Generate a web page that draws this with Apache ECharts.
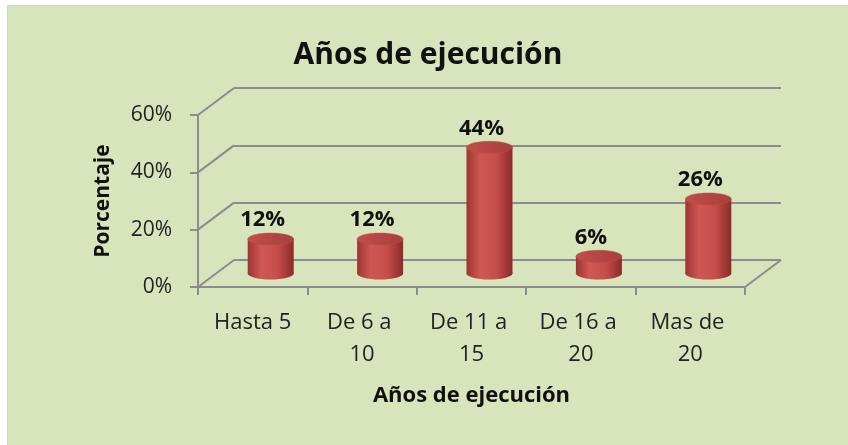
<!DOCTYPE html>
<html>
<head>
<meta charset="utf-8">
<script src="https://cdn.jsdelivr.net/npm/echarts@6/dist/echarts.min.js"></script>
<style>
  html, body { margin: 0; padding: 0; background: #fff; }
  #chart {
    position: absolute; left: 7px; top: 5px;
    width: 840px; height: 439px;
    border-top: 1px solid #d2d2d2; border-left: 1px solid #d2d2d2;
    background: #d8e4bc;
  }
</style>
</head>
<body>
<div id="chart"></div>
<script>
// datos del grafico
const categorias = ['Hasta 5', 'De 6 a 10', 'De 11 a 15', 'De 16 a 20', 'Mas de 20'];
const porcentajes = [12, 12, 44, 6, 26];
const ticksY = [0, 20, 40, 60];

const FONT = '"Open Sans"';
const DX = 36, DY = -27;   // profundidad de la vista 3d
const RX = 23, RY = 6;

let chartDom = document.getElementById('chart');
let myChart = echarts.init(chartDom);

function cilindro(params, api) {
    let i = api.value(0), v = api.value(1);
    let base = api.coord([i, 0]);
    let top = api.coord([i, v]);
    let cx = base[0] + DX / 2;
    let by = base[1] + DY / 2;
    let ty = top[1] + DY / 2;
    let cuerpo = new echarts.graphic.LinearGradient(0, 0, 1, 0, [
        {offset: 0, color: '#9c3532'},
        {offset: 0.3, color: '#cf5854'},
        {offset: 0.65, color: '#c64d4a'},
        {offset: 1, color: '#8a2b29'}
    ]);
    let tapa = new echarts.graphic.LinearGradient(0, 0, 1, 0, [
        {offset: 0, color: '#c24d49'},
        {offset: 1, color: '#a7403d'}
    ]);
    return {
        type: 'group',
        children: [
            {type: 'ellipse', shape: {cx: cx, cy: by, rx: RX, ry: RY}, style: {fill: cuerpo}},
            {type: 'rect', shape: {x: cx - RX, y: ty, width: RX * 2, height: by - ty}, style: {fill: cuerpo}},
            {type: 'ellipse', shape: {cx: cx, cy: ty, rx: RX, ry: RY}, style: {fill: tapa, stroke: '#b9504c', lineWidth: 0.5}},
            {
                type: 'text',
                style: {
                    x: cx - 8, y: ty - RY - 2,
                    text: v + '%',
                    align: 'center', verticalAlign: 'bottom',
                    font: 'bold 22px ' + FONT, fill: '#111'
                }
            }
        ]
    };
}

function paredes(params, api) {
    let v = api.value(0);
    let p = api.coord([0, v]);
    let cs = params.coordSys;
    let estilo = {stroke: '#8c8c8c', lineWidth: 2};
    let hijos = [
        {type: 'line', shape: {x1: cs.x, y1: p[1], x2: cs.x + DX, y2: p[1] + DY}, style: estilo}
    ];
    if (v === 0) {
        hijos.push({
            type: 'line',
            shape: {x1: cs.x + cs.width, y1: p[1], x2: cs.x + cs.width + DX, y2: p[1] + DY},
            style: estilo
        });
    }
    return {type: 'group', children: hijos};
}

let option = {
    backgroundColor: '#d8e4bc',
    animation: false,
    title: {
        text: 'Años de ejecución',
        left: 'center',
        top: 34,
        padding: [0, 0, 0, 14],
        textStyle: {fontFamily: FONT, fontSize: 30, fontWeight: 'bold', color: '#111'}
    },
    grid: [
        {left: 190, right: 103, top: 109, bottom: 158},
        {left: 190 + DX, right: 103 - DX, top: 109 + DY, bottom: 158 - DY}
    ],
    xAxis: [
        {
            type: 'category',
            gridIndex: 0,
            data: categorias,
            name: 'Años de ejecución',
            nameLocation: 'middle',
            nameGap: 98,
            nameTextStyle: {fontFamily: FONT, fontSize: 22, fontWeight: 'bold', color: '#111'},
            axisLine: {lineStyle: {color: '#8c8c8c', width: 2}},
            axisTick: {show: true, length: 8, alignWithLabel: false, lineStyle: {color: '#8c8c8c', width: 2}},
            axisLabel: {
                interval: 0, margin: 20,
                width: 92, overflow: 'break',
                lineHeight: 32,
                fontFamily: FONT, fontSize: 22, color: '#222'
            }
        },
        {type: 'category', gridIndex: 1, data: categorias, show: false}
    ],
    yAxis: [
        {
            type: 'value',
            gridIndex: 0,
            min: 0, max: 60, interval: 20,
            name: 'Porcentaje',
            nameLocation: 'middle',
            nameGap: 84,
            nameTextStyle: {fontFamily: FONT, fontSize: 21, fontWeight: 'bold', color: '#111'},
            axisLine: {show: true, lineStyle: {color: '#8c8c8c', width: 2}},
            axisTick: {show: true, length: 8, lineStyle: {color: '#8c8c8c', width: 2}},
            axisLabel: {margin: 26, formatter: '{value}%', fontFamily: FONT, fontSize: 21, color: '#222'},
            splitLine: {show: false}
        },
        {
            type: 'value',
            gridIndex: 1,
            min: 0, max: 60, interval: 20,
            axisLine: {show: false},
            axisTick: {show: false},
            axisLabel: {show: false},
            splitLine: {show: true, lineStyle: {color: '#8c8c8c', width: 2}}
        }
    ],
    series: [
        {
            type: 'custom',
            xAxisIndex: 0, yAxisIndex: 0,
            renderItem: paredes,
            data: ticksY.map(v => [v]),
            z: 1
        },
        {
            type: 'custom',
            xAxisIndex: 0, yAxisIndex: 0,
            renderItem: cilindro,
            data: porcentajes.map((v, i) => [i, v]),
            z: 5
        }
    ]
};
option && myChart.setOption(option);
</script>
</body>
</html>
